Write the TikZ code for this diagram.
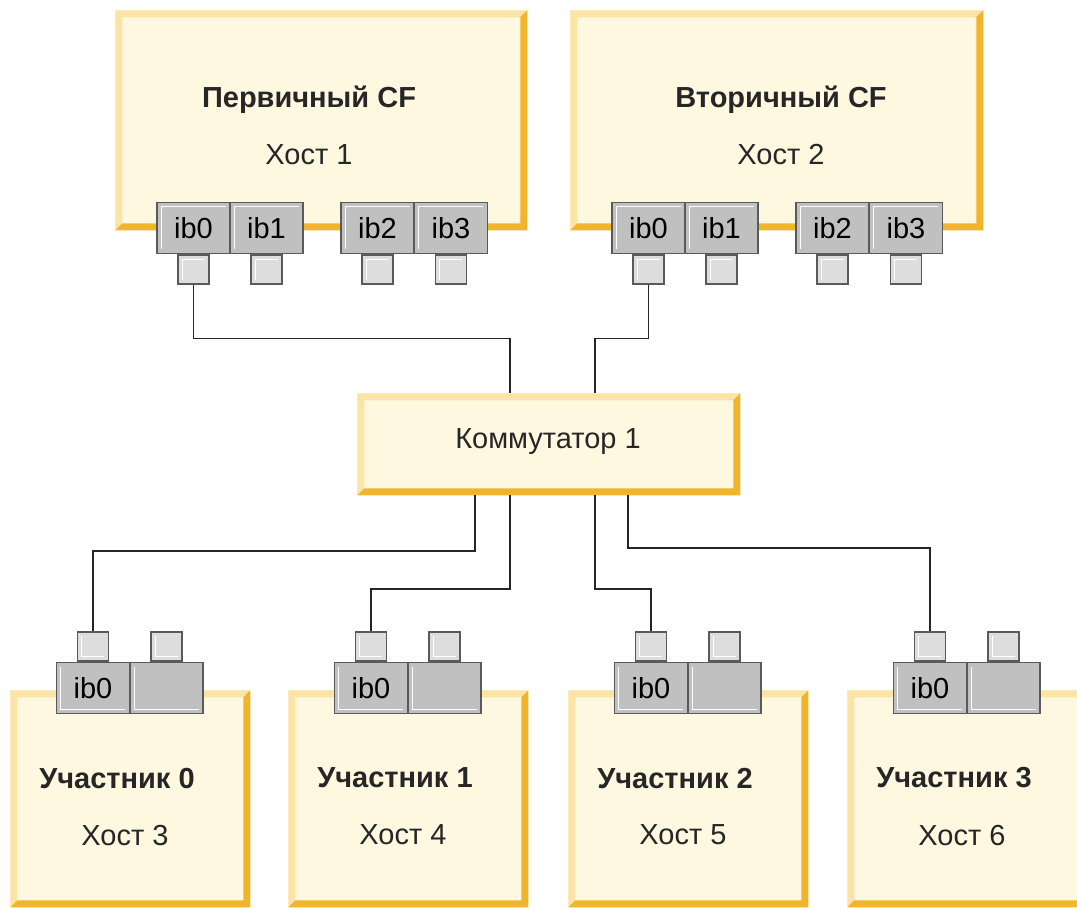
\documentclass[tikz,border=0pt]{standalone}
\usepackage{fontspec}
\setmainfont{Liberation Sans}
\usetikzlibrary{positioning}
\definecolor{boxfill}{HTML}{FFF8E1}
\definecolor{bevlight}{HTML}{FCE3A6}
\definecolor{bevdark}{HTML}{F0B52C}
\definecolor{portgray}{HTML}{C0C0C0}
\definecolor{pluggray}{HTML}{DDDDDD}
\definecolor{edgegray}{HTML}{5A5A5A}
\newlength{\bev}
\setlength{\bev}{0.14cm}

\begin{document}
\begin{tikzpicture}[
  x=0.02cm, y=-0.02cm,
  hostbox/.style 2 args={rectangle, anchor=north west, inner sep=0pt, fill=boxfill,
    minimum width=#1*0.02cm, minimum height=#2*0.02cm,
    path picture={
      \fill[bevlight] (path picture bounding box.south west) -- (path picture bounding box.north west)
        -- (path picture bounding box.north east) -- ([shift={(-\bev,-\bev)}]path picture bounding box.north east)
        -- ([shift={(\bev,-\bev)}]path picture bounding box.north west) -- ([shift={(\bev,\bev)}]path picture bounding box.south west) -- cycle;
      \fill[bevdark] (path picture bounding box.south west) -- (path picture bounding box.south east)
        -- (path picture bounding box.north east) -- ([shift={(-\bev,-\bev)}]path picture bounding box.north east)
        -- ([shift={(-\bev,\bev)}]path picture bounding box.south east) -- ([shift={(\bev,\bev)}]path picture bounding box.south west) -- cycle;
    }},
  port/.style={rectangle, draw=edgegray, line width=1.1pt, fill=portgray, inner sep=0pt,
    minimum width=73*0.02cm, minimum height=51*0.02cm, font=\fontsize{16.5}{20}\selectfont},
  plug/.style={rectangle, draw=edgegray, line width=1.1pt, fill=pluggray, inner sep=0pt,
    minimum width=31*0.02cm, minimum height=29*0.02cm},
  hitop/.style={path picture={
      \draw[white, line width=0.7pt] ([shift={(2.4pt,2.4pt)}]path picture bounding box.south west)
        -- ([shift={(2.4pt,-2.4pt)}]path picture bounding box.north west)
        -- ([shift={(-2.4pt,-2.4pt)}]path picture bounding box.north east);}},
  hibot/.style={path picture={
      \draw[white, line width=0.7pt] ([shift={(2.4pt,-2.4pt)}]path picture bounding box.north west)
        -- ([shift={(2.4pt,2.4pt)}]path picture bounding box.south west)
        -- ([shift={(-2.4pt,2.4pt)}]path picture bounding box.south east);}},
  wire/.style={draw=black!85, line width=0.85pt},
  titletext/.style={font=\fontsize{16.5}{20}\selectfont\bfseries, text=black!85},
  hosttext/.style={font=\fontsize{16.5}{20}\selectfont, text=black!85}
]
\useasboundingbox (0,0) rectangle (1077,907);

% host boxes
\node[hostbox={412}{220}] (h1) at (115,10) {};
\node[hostbox={413}{220}] (h2) at (570,10) {};
\node[hostbox={383}{102}] (sw) at (357,393) {};
\foreach \m/\x in {0/10, 1/288, 2/568, 3/847}
  \node[hostbox={240}{217}] (m\m) at (\x,690) {};

% texts
\node[titletext] (t1) at (309,100) {Первичный CF};
\node[hosttext]  (n1) at (309,155) {Хост 1};
\node[titletext] (t2) at (781,100) {Вторичный CF};
\node[hosttext]  (n2) at (781,155) {Хост 2};
\node[hosttext]  (swt) at (548,442) {Коммутатор 1};
\foreach \m/\x/\h in {0/10/3, 1/288/4, 2/568/5, 3/847/6} {
  \node[titletext] (mt\m) at (\x+107,778) {Участник \m};
  \node[hosttext]  (mn\m) at (\x+115,835) {Хост \h};
}

% ports of the CF hosts
\foreach \h/\x in {1/115, 2/570}
  \foreach \p/\dx in {0/78.5, 1/151.5, 2/262.5, 3/336} {
    \node[port, hitop] (h\h ib\p) at (\x+\dx,228) {ib\p};
    \node[plug, hitop, below=0pt of h\h ib\p] (h\h pl\p) {};
  }

% ports of the members
\foreach \m/\x in {0/10, 1/288, 2/568, 3/847} {
  \node[port, hibot] (m\m ib0) at (\x+83,688) {ib0};
  \node[port, hibot] (m\m ib1) at (\x+156.5,688) {};
  \node[plug, hibot, above=0pt of m\m ib0] (m\m pl0) {};
  \node[plug, hibot, above=0pt of m\m ib1] (m\m pl1) {};
}

% switch attachment points
\coordinate (swn1) at (510,393);
\coordinate (swn2) at (595,393);
\coordinate (sws0) at (475,495);
\coordinate (sws1) at (510,495);
\coordinate (sws2) at (595,495);
\coordinate (sws3) at (628,495);

% cables
\draw[wire] (h1pl0.south) -- ++(0,53) -| (swn1);
\draw[wire] (h2pl0.south) -- ++(0,53) -| (swn2);
\draw[wire] (sws0) -- ++(0,56) -| (m0pl0.north);
\draw[wire] (sws1) -- ++(0,94) -| (m1pl0.north);
\draw[wire] (sws2) -- ++(0,94) -| (m2pl0.north);
\draw[wire] (sws3) -- ++(0,53) -| (m3pl0.north);
\end{tikzpicture}
\end{document}
